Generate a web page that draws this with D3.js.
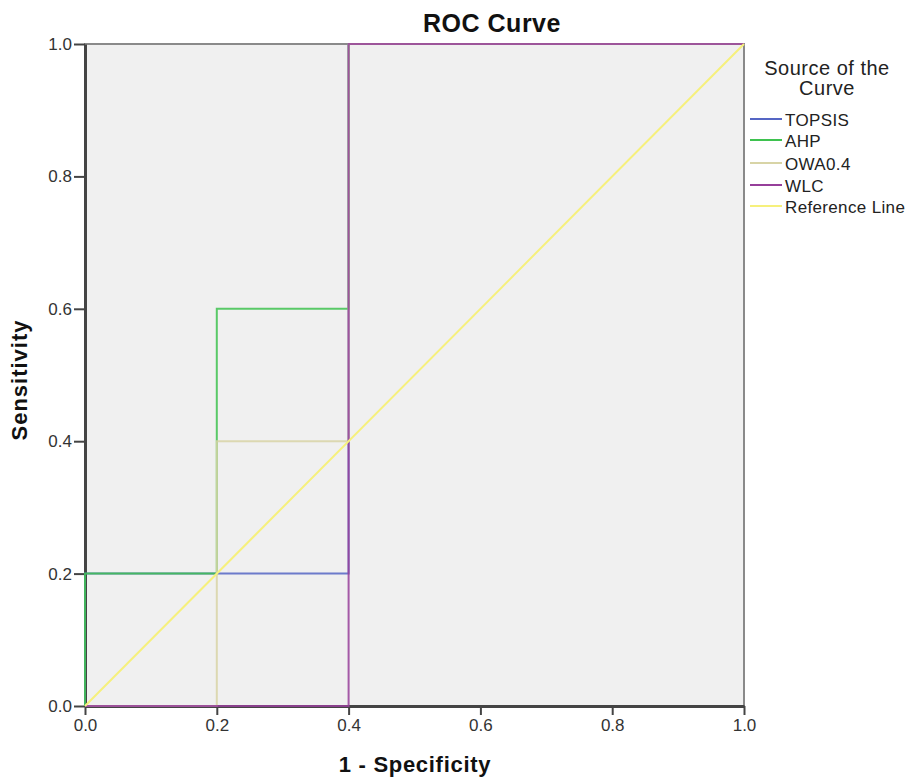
<!DOCTYPE html>
<html><head><meta charset="utf-8">
<script src="https://cdn.jsdelivr.net/npm/d3@7"></script>
<style>body{margin:0;background:#fff;} text{font-family:"Liberation Sans",Arial,sans-serif;}</style>
</head><body>
<svg id="c" width="908" height="781"></svg>
<script>
const seriesNames = ["TOPSIS","AHP","OWA0.4","WLC","Reference Line"];
const seriesColors = ["#5566c4","#3ec24f","#d8d4a6","#963f9a","#f6f07c"];
const topsisX = [0,0,0.2,0.4,0.4,1];
const topsisY = [0,0.2,0.2,0.2,1,1];
const ahpX = [0,0,0.2,0.2,0.4,0.4,1];
const ahpY = [0,0.2,0.2,0.6,0.6,1,1];
const owaX = [0,0.2,0.2,0.4,0.4,1];
const owaY = [0,0,0.4,0.4,1,1];
const wlcX = [0,0.4,0.4,1];
const wlcY = [0,0,1,1];
const refX = [0,1];
const refY = [0,1];
const tickValues = [0,0.2,0.4,0.6,0.8,1.0];

const svg = d3.select("#c");
const L=85,R=744,T=44,B=706;
const x = d3.scaleLinear().domain([0,1]).range([L,R]);
const y = d3.scaleLinear().domain([0,1]).range([B,T]);

svg.append("rect").attr("x",L).attr("y",T).attr("width",R-L).attr("height",B-T).attr("fill","#f0f0f0")
  .attr("stroke","#8a8a8a").attr("stroke-width",2);

const fmt = d3.format(".1f");
const xa = svg.append("g").attr("transform",`translate(0,${B})`).call(d3.axisBottom(x).tickValues(tickValues).tickFormat(fmt).tickSize(9).tickPadding(4).tickSizeOuter(0));
const ya = svg.append("g").attr("transform",`translate(${L},0)`).call(d3.axisLeft(y).tickValues(tickValues).tickFormat(fmt).tickSize(11).tickPadding(2).tickSizeOuter(0));
[xa,ya].forEach(a=>{
  a.select(".domain").attr("stroke","#444").attr("stroke-width",3);
  a.selectAll(".tick line").attr("stroke","#444").attr("stroke-width",2);
  a.selectAll(".tick text").attr("font-size",17).attr("fill","#333").attr("font-family","Liberation Sans, Arial, sans-serif");
});

const series = [[topsisX,topsisY],[ahpX,ahpY],[owaX,owaY],[wlcX,wlcY],[refX,refY]];
const line = d3.line().x(d=>x(d[0])).y(d=>y(d[1]));
series.forEach((s,i)=>{
  const pts = s[0].map((v,j)=>[v,s[1][j]]);
  svg.append("path").attr("d",line(pts)).attr("fill","none").attr("stroke",seriesColors[i]).attr("stroke-width",2)
    .attr("stroke-opacity", i<4 ? 0.85 : 1);
});

svg.append("text").attr("x",492).attr("y",32).attr("text-anchor","middle").attr("font-size",25).attr("font-weight","bold").attr("letter-spacing",0.5).attr("fill","#111").text("ROC Curve");
svg.append("text").attr("x",415).attr("y",772).attr("text-anchor","middle").attr("font-size",22).attr("font-weight","bold").attr("letter-spacing",0.7).attr("fill","#111").text("1 - Specificity");
svg.append("text").attr("transform","translate(27,380) rotate(-90)").attr("text-anchor","middle").attr("font-size",22).attr("font-weight","bold").attr("letter-spacing",1).attr("fill","#111").text("Sensitivity");

svg.append("text").attr("x",827).attr("y",75).attr("text-anchor","middle").attr("font-size",20).attr("letter-spacing",0.5).attr("fill","#222").text("Source of the");
svg.append("text").attr("x",827).attr("y",95).attr("text-anchor","middle").attr("font-size",20).attr("letter-spacing",0.5).attr("fill","#222").text("Curve");
const ly = [119,140,163,185,206];
seriesNames.forEach((n,i)=>{
  svg.append("line").attr("x1",750).attr("x2",782).attr("y1",ly[i]).attr("y2",ly[i]).attr("stroke",seriesColors[i]).attr("stroke-width",2);
  svg.append("text").attr("x",785).attr("y",ly[i]+7).attr("font-size",17).attr("letter-spacing",0.35).attr("fill","#222").text(n);
});
</script>
</body></html>
